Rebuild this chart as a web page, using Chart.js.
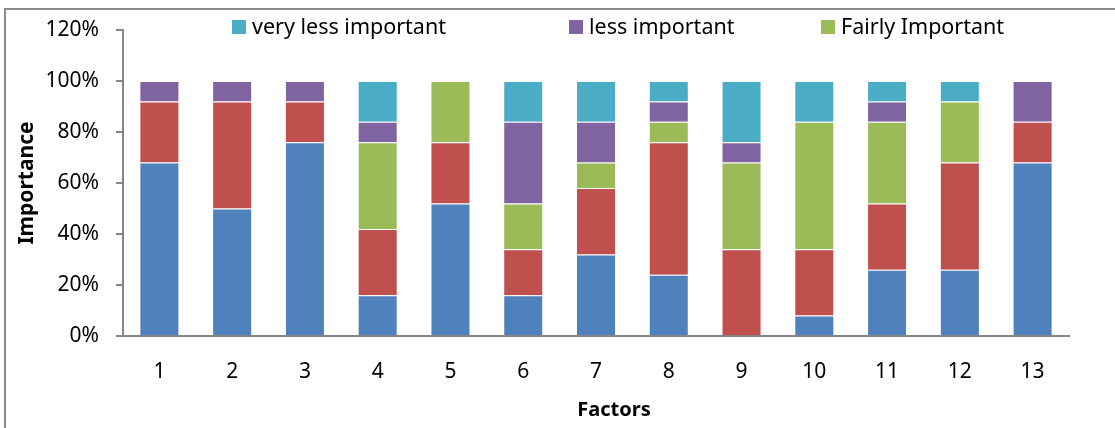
<!DOCTYPE html>
<html>
<head>
<meta charset="utf-8">
<script src="https://cdn.jsdelivr.net/npm/chart.js@4.4.1/dist/chart.umd.min.js"></script>
<style>
  html, body { margin: 0; padding: 0; background: #fff; overflow: hidden; }
  #frame { position: absolute; left: 4px; top: 8px; width: 1200px; height: 600px; border: 2px solid #8a8a8a; }
  #wrap { position: absolute; left: 0; top: 0; width: 1115px; height: 428px; }
</style>
</head>
<body>
<div id="frame"></div>
<div id="wrap"><canvas id="c" width="1115" height="428"></canvas></div>
<script>
// Share of responses (%) per factor, stacked from most to least important
const factors = ['1', '2', '3', '4', '5', '6', '7', '8', '9', '10', '11', '12', '13'];
const veryImportant     = [68, 50, 76, 16, 52, 16, 32, 24,  0,  8, 26, 26, 68];
const important         = [24, 42, 16, 26, 24, 18, 26, 52, 34, 26, 26, 42, 16];
const fairlyImportant   = [ 0,  0,  0, 34, 24, 18, 10,  8, 34, 50, 32, 24,  0];
const lessImportant     = [ 8,  8,  8,  8,  0, 32, 16,  8,  8,  0,  8,  0, 16];
const veryLessImportant = [ 0,  0,  0, 16,  0, 16, 16,  8, 24, 16,  8,  8,  0];
const yTicks = [0, 20, 40, 60, 80, 100, 120];

const FONT = "'Noto Sans', 'DejaVu Sans', sans-serif";
Chart.defaults.font.family = FONT;
Chart.defaults.color = '#000';

const AXIS = '#868686';

function series(label, values, color) {
  return {
    label,
    data: values.map(v => (v === 0 ? null : v)),
    backgroundColor: color,
    borderColor: 'rgba(255,255,255,0.35)',
    borderWidth: 1,
    categoryPercentage: 1.0,
    barPercentage: 0.55
  };
}

// Legend entries drawn on one row above the plot (dataset index, left x)
const legendEntries = [
  { index: 4, x: 232 },
  { index: 3, x: 569 },
  { index: 2, x: 821 }
];

const topLegend = {
  id: 'topLegend',
  afterDraw(chart) {
    const ctx = chart.ctx;
    ctx.save();
    ctx.font = '21.5px ' + FONT;
    ctx.textBaseline = 'middle';
    ctx.textAlign = 'left';
    const cy = 27;
    legendEntries.forEach(e => {
      const ds = chart.data.datasets[e.index];
      ctx.fillStyle = ds.backgroundColor;
      ctx.fillRect(e.x, cy - 7, 14, 14);
      ctx.fillStyle = '#000';
      ctx.fillText(ds.label, e.x + 20, cy + 1);
    });
    ctx.restore();
  }
};

// Category axis title, placed under the tick labels
const xAxisTitle = {
  id: 'xAxisTitle',
  afterDraw(chart) {
    const ctx = chart.ctx;
    ctx.save();
    ctx.font = 'bold 20px ' + FONT;
    ctx.textAlign = 'center';
    ctx.textBaseline = 'middle';
    ctx.fillStyle = '#000';
    ctx.fillText('Factors', 614, 410);
    ctx.restore();
  }
};

new Chart(document.getElementById('c'), {
  type: 'bar',
  data: {
    labels: factors,
    datasets: [
      series('very important', veryImportant, '#4F81BD'),
      series('important', important, '#C0504D'),
      series('Fairly Important', fairlyImportant, '#9BBB59'),
      series('less important', lessImportant, '#8064A2'),
      series('very less important', veryLessImportant, '#4BACC6')
    ]
  },
  options: {
    responsive: false,
    animation: false,
    layout: { padding: { top: 30, right: 46, bottom: 0, left: 0 } },
    plugins: {
      legend: { display: false },
      tooltip: { enabled: false }
    },
    scales: {
      x: {
        stacked: true,
        grid: { display: false, drawTicks: false },
        border: { display: true, color: AXIS, width: 2 },
        ticks: { font: { size: 21 }, color: '#000', padding: 23 },
        title: { display: false },
        afterFit(scale) { scale.height = 92; }
      },
      y: {
        stacked: true,
        min: 0,
        max: 120,
        afterBuildTicks(scale) { scale.ticks = yTicks.map(v => ({ value: v })); },
        ticks: { font: { size: 21 }, color: '#000', padding: 17, callback: v => v + '%' },
        grid: { display: true, drawOnChartArea: false, drawTicks: true, tickLength: 7, color: AXIS, lineWidth: 2 },
        border: { display: true, color: AXIS, width: 2 },
        title: {
          display: true, text: 'Importance', color: '#000',
          font: { size: 21, weight: 'bold' }, padding: { top: 14, bottom: 0 }
        },
        afterFit(scale) { scale.width = 123; }
      }
    }
  },
  plugins: [topLegend, xAxisTitle]
});
</script>
</body>
</html>
